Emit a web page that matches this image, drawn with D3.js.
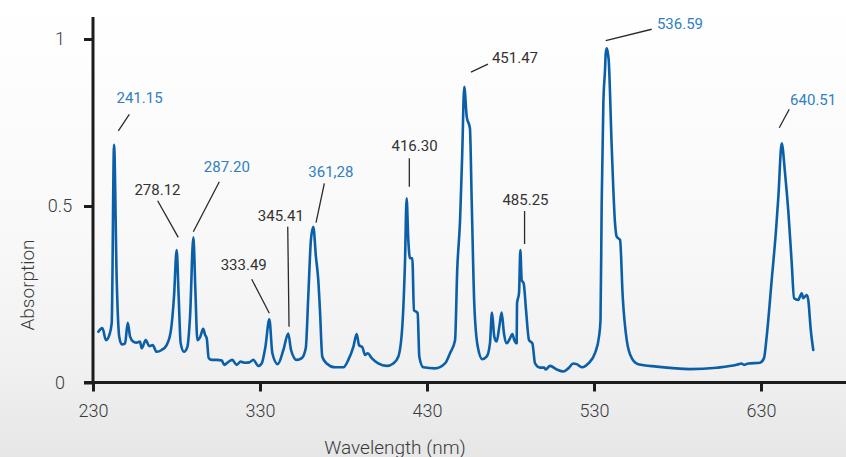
<!DOCTYPE html>
<html>
<head>
<meta charset="utf-8">
<script src="https://cdn.jsdelivr.net/npm/d3@7"></script>
<style>
  body { margin: 0; background: #fff; }
  svg { display: block; font-family: Roboto, "Noto Sans", sans-serif; }
</style>
</head>
<body>
<svg id="chart" width="846" height="457"></svg>
<script>
// spectrum: wavelength (nm) and absorption
var wavelength = [233.2, 235.6, 237.8, 239.8, 241.2, 242.6, 244.2, 245.7, 247.2, 249.2,
    250.8, 252.2, 254.1, 256.2, 258.1, 259.2, 261.6, 263.7, 265.7, 268.1,
    271.1, 274.1, 276.7, 278.5, 280.1, 281.3, 282.5, 284.5, 286.5, 288.1,
    290.1, 291.3, 292.5, 294.1, 296.0, 297.1, 298.1, 299.3, 301.1, 304.1,
    307.1, 308.6, 310.7, 313.4, 316.0, 318.4, 321.0, 323.6, 326.0, 329.0,
    331.0, 333.2, 335.6, 337.4, 340.6, 344.0, 346.9, 348.6, 352.0, 355.0,
    357.4, 358.9, 360.5, 361.9, 363.5, 364.9, 365.9, 367.3, 369.9, 374.9,
    379.9, 382.9, 385.9, 387.9, 389.3, 391.3, 392.9, 394.5, 396.9, 400.8,
    405.9, 409.8, 412.8, 415.2, 416.8, 417.8, 418.8, 419.8, 421.2, 422.2,
    423.4, 424.4, 425.4, 427.8, 434.8, 440.8, 443.8, 446.8, 448.1, 449.8,
    451.1, 452.3, 453.8, 455.7, 456.8, 458.3, 460.4, 463.1, 465.7, 467.7,
    468.9, 470.3, 471.7, 473.3, 474.7, 476.1, 477.7, 479.7, 481.1, 482.3,
    483.7, 483.9, 485.1, 485.9, 486.7, 487.9, 489.3, 491.1, 493.1, 494.7,
    497.7, 500.2, 501.1, 503.7, 507.7, 511.6, 514.6, 517.6, 519.6, 523.0,
    526.6, 530.6, 533.0, 533.9, 534.6, 535.6, 536.6, 537.0, 537.6, 538.2,
    538.8, 540.6, 542.6, 543.6, 545.6, 547.2, 549.6, 552.6, 556.5, 567.5,
    587.5, 603.5, 615.4, 618.4, 619.8, 622.4, 629.4, 631.8, 633.4, 636.4,
    639.0, 640.4, 642.4, 644.4, 646.3, 648.4, 649.8, 652.3, 654.4, 655.3,
    657.4, 658.3, 659.8, 661.3];
var absorption = [0.144, 0.154, 0.120, 0.135, 0.168, 0.683, 0.290, 0.130, 0.108, 0.111,
    0.169, 0.130, 0.116, 0.113, 0.116, 0.097, 0.120, 0.103, 0.106, 0.087,
    0.092, 0.106, 0.149, 0.243, 0.375, 0.243, 0.111, 0.087, 0.101, 0.186,
    0.411, 0.262, 0.120, 0.128, 0.152, 0.135, 0.125, 0.069, 0.064, 0.064,
    0.062, 0.050, 0.057, 0.064, 0.050, 0.059, 0.056, 0.057, 0.064, 0.047,
    0.054, 0.100, 0.179, 0.083, 0.052, 0.092, 0.139, 0.092, 0.064, 0.069,
    0.097, 0.243, 0.404, 0.441, 0.356, 0.290, 0.205, 0.073, 0.054, 0.043,
    0.043, 0.064, 0.101, 0.137, 0.106, 0.100, 0.078, 0.083, 0.069, 0.054,
    0.047, 0.054, 0.073, 0.158, 0.338, 0.523, 0.404, 0.352, 0.352, 0.205,
    0.201, 0.196, 0.073, 0.043, 0.040, 0.054, 0.083, 0.120, 0.319, 0.460,
    0.658, 0.857, 0.767, 0.733, 0.508, 0.224, 0.101, 0.066, 0.073, 0.111,
    0.198, 0.130, 0.116, 0.158, 0.198, 0.139, 0.111, 0.125, 0.137, 0.120,
    0.111, 0.224, 0.253, 0.375, 0.290, 0.281, 0.205, 0.120, 0.111, 0.054,
    0.042, 0.042, 0.037, 0.047, 0.037, 0.031, 0.040, 0.054, 0.052, 0.043,
    0.054, 0.083, 0.130, 0.177, 0.508, 0.807, 0.907, 0.955, 0.972, 0.961,
    0.937, 0.678, 0.451, 0.413, 0.404, 0.243, 0.120, 0.069, 0.052, 0.045,
    0.038, 0.042, 0.050, 0.054, 0.050, 0.054, 0.056, 0.069, 0.130, 0.290,
    0.432, 0.528, 0.688, 0.598, 0.489, 0.338, 0.239, 0.234, 0.253, 0.239,
    0.248, 0.234, 0.149, 0.092];

var xTicks = [230, 330, 430, 530, 630];
var yTicks = [0, 0.5, 1];

// peak labels (text as printed) and whether they are highlighted blue
var peakLabels = ["241.15", "278.12", "287.20", "333.49", "345.41", "361,28",
    "416.30", "451.47", "485.25", "536.59", "640.51"];
var peakValues = [241.15, 278.12, 287.20, 333.49, 345.41, 361.28,
    416.30, 451.47, 485.25, 536.59, 640.51];
var peakBlue = [true, false, true, false, false, true, false, false, false, true, true];

// leader line / label offsets from the peak, in pixels: [x1, y1, x2, y2, tx, ty]
var peakOffsets = [
    [6.7, -13.9, 17.7, -30.6, 27.9, -46.9],
    [4.9, -12.8, -15.7, -49.4, -15.9, -60.4],
    [4.8, -5.7, 30.8, -55.7, 38.3, -70.7],
    [3.5, -6, -14.1, -40, -22.1, -54],
    [3.3, -6.7, 2, -106.7, -4.9, -117.6],
    [3.8, -4.1, 12.1, -43.5, 18.6, -54.8],
    [5.2, -11.6, 5.2, -40, 10.4, -52.5],
    [8.1, -14.6, 25.1, -22.6, 52.1, -28.6],
    [5.3, -6.1, 5.3, -39.1, 6.2, -50.6],
    [0.7, -7.7, 46.7, -19.1, 75, -24.2],
    [0.7, -15.5, 10.7, -33.9, 34.6, -43.2]
];

var data = wavelength.map(function (w, i) { return { w: w, a: absorption[i] }; });

var svg = d3.select("#chart");

// soft grey backdrop
var grad = svg.append("defs").append("linearGradient")
    .attr("id", "bg").attr("x1", 0).attr("y1", 0).attr("x2", 0).attr("y2", 1);
grad.append("stop").attr("offset", "0%").attr("stop-color", "#ffffff");
grad.append("stop").attr("offset", "55%").attr("stop-color", "#f8f8f8");
grad.append("stop").attr("offset", "82%").attr("stop-color", "#f0f0f0");
grad.append("stop").attr("offset", "100%").attr("stop-color", "#e6e6e6");
svg.append("rect").attr("width", 846).attr("height", 457).attr("fill", "url(#bg)");

var x = d3.scaleLinear().domain([230, 630]).range([93, 761]);
var y = d3.scaleLinear().domain([0, 0.5, 1]).range([382.5, 206, 39]);

var axisColor = "#1c1c1c";
var textColor = "#3a3a3a";

// x axis
var gx = svg.append("g").attr("transform", "translate(0,382.5)")
    .call(d3.axisBottom(x).tickValues(xTicks).tickSize(9).tickPadding(13).tickFormat(d3.format("d")));
gx.select(".domain").remove();
gx.selectAll(".tick line").attr("stroke", axisColor).attr("stroke-width", 3);
gx.selectAll(".tick text").attr("fill", textColor).style("font-size", "18px").style("font-weight", 300)
    .style("font-family", "Roboto, sans-serif");
svg.append("line").attr("x1", 84).attr("x2", 846).attr("y1", 382.5).attr("y2", 382.5)
    .attr("stroke", axisColor).attr("stroke-width", 3);

// y axis
var gy = svg.append("g").attr("transform", "translate(93,0)")
    .call(d3.axisLeft(y).tickValues(yTicks).tickSize(9).tickFormat(function (d) { return d; }));
gy.select(".domain").remove();
gy.selectAll(".tick line").attr("stroke", axisColor).attr("stroke-width", 3);
gy.selectAll(".tick text").attr("fill", textColor).attr("x", -33).attr("text-anchor", "middle")
    .style("font-size", "18px").style("font-weight", 300).style("font-family", "Roboto, sans-serif");
svg.append("line").attr("x1", 93).attr("x2", 93).attr("y1", 17).attr("y2", 384)
    .attr("stroke", axisColor).attr("stroke-width", 3);

// axis titles
svg.append("text").attr("x", 395).attr("y", 447).attr("text-anchor", "middle")
    .attr("dominant-baseline", "central").attr("fill", textColor)
    .style("font-size", "19px").style("font-weight", 300).text("Wavelength (nm)");
svg.append("text").attr("transform", "translate(27,285) rotate(-90)").attr("text-anchor", "middle")
    .attr("dominant-baseline", "central").attr("fill", textColor)
    .style("font-size", "19px").style("font-weight", 300).text("Absorption");

// spectrum
var line = d3.line().curve(d3.curveMonotoneX)
    .x(function (d) { return x(d.w); }).y(function (d) { return y(d.a); });
svg.append("path").datum(data)
    .attr("d", line)
    .attr("fill", "none")
    .attr("stroke", "#0b5fa8")
    .attr("stroke-width", 2.6)
    .attr("stroke-linejoin", "round")
    .attr("stroke-linecap", "round");

// peak annotations
peakLabels.forEach(function (label, i) {
    var w = peakValues[i];
    var near = data.filter(function (d) { return d.w >= w - 1 && d.w <= w + 4; });
    var top = d3.max(near, function (d) { return d.a; });
    var px = x(w), py = y(top);
    var o = peakOffsets[i];
    svg.append("line")
        .attr("x1", px + o[0]).attr("y1", py + o[1])
        .attr("x2", px + o[2]).attr("y2", py + o[3])
        .attr("stroke", "#2a2a2a").attr("stroke-width", 1.3);
    svg.append("text")
        .attr("x", px + o[4]).attr("y", py + o[5])
        .attr("text-anchor", "middle").attr("dominant-baseline", "central")
        .attr("fill", peakBlue[i] ? "#2f7fc1" : "#333333")
        .style("font-size", "15px")
        .text(label);
});
</script>
</body>
</html>
